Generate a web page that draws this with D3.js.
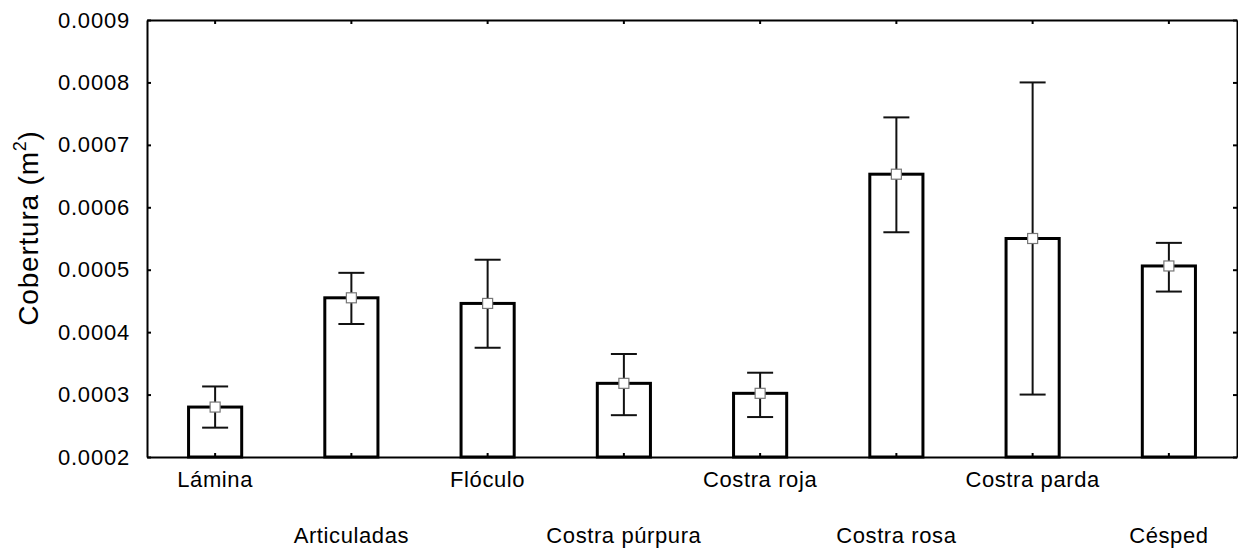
<!DOCTYPE html>
<html>
<head>
<meta charset="utf-8">
<script src="https://cdn.jsdelivr.net/npm/d3@7"></script>
<style>
  body { margin: 0; background: #fff; }
  svg text { font-family: "Liberation Sans", Arial, sans-serif; fill: #000; }
</style>
</head>
<body>
<svg id="canvas"></svg>
<script>
let categories = ['Lámina', 'Articuladas', 'Flóculo', 'Costra púrpura', 'Costra roja', 'Costra rosa', 'Costra parda', 'Césped']
let means = [0.000280, 0.000455, 0.000446, 0.000318, 0.000302, 0.000653, 0.000550, 0.000506]
let upper = [0.000313, 0.000495, 0.000516, 0.000365, 0.000335, 0.000744, 0.000800, 0.000543]
let lower = [0.000247, 0.000413, 0.000375, 0.000267, 0.000264, 0.000560, 0.000300, 0.000465]
let yTicks = [0.0002, 0.0003, 0.0004, 0.0005, 0.0006, 0.0007, 0.0008, 0.0009]

let w = 1238
let h = 548
let plotLeft = 147
let plotRight = 1237
let plotTop = 20
let plotBottom = 457

let canvas = d3.select('#canvas')
canvas.attr('width', w).attr('height', h)

let xScale = d3.scaleBand()
    .domain(categories)
    .range([plotLeft, plotRight])
let yScale = d3.scaleLinear()
    .domain([0.0002, 0.0009])
    .range([plotBottom, plotTop])

let barW = xScale.bandwidth() * 0.39
let capW = 26
let cx = (d) => xScale(d) + xScale.bandwidth() / 2

// bars
canvas.selectAll('rect.bar')
    .data(categories)
    .enter()
    .append('rect')
    .attr('class', 'bar')
    .attr('x', (d) => cx(d) - barW / 2)
    .attr('width', barW)
    .attr('y', (d, i) => yScale(means[i]))
    .attr('height', (d, i) => yScale(0.0002) - yScale(means[i]))
    .attr('fill', '#fff')
    .attr('stroke', '#000')
    .attr('stroke-width', 3)

// error bars
let err = canvas.append('g')
    .attr('stroke', '#111')
    .attr('stroke-width', 2)
categories.forEach((d, i) => {
    err.append('line')
        .attr('x1', cx(d)).attr('x2', cx(d))
        .attr('y1', yScale(upper[i])).attr('y2', yScale(lower[i]))
    err.append('line')
        .attr('x1', cx(d) - capW / 2).attr('x2', cx(d) + capW / 2)
        .attr('y1', yScale(upper[i])).attr('y2', yScale(upper[i]))
    err.append('line')
        .attr('x1', cx(d) - capW / 2).attr('x2', cx(d) + capW / 2)
        .attr('y1', yScale(lower[i])).attr('y2', yScale(lower[i]))
})

// mean markers
canvas.selectAll('rect.mean')
    .data(categories)
    .enter()
    .append('rect')
    .attr('class', 'mean')
    .attr('x', (d) => cx(d) - 5)
    .attr('y', (d, i) => yScale(means[i]) - 5)
    .attr('width', 10)
    .attr('height', 10)
    .attr('fill', '#fff')
    .attr('stroke', '#777')
    .attr('stroke-width', 1.2)

// axes
let yAxis = d3.axisLeft(yScale)
    .tickValues(yTicks)
    .tickFormat(d3.format('.4f'))
    .tickSizeInner(-4)
    .tickSizeOuter(0)
    .tickPadding(17)
canvas.append('g')
    .attr('transform', 'translate(' + plotLeft + ', 0)')
    .call(yAxis)
    .call((g) => g.selectAll('text').style('font-size', '22px').attr('letter-spacing', '0.8px'))

let yAxisR = d3.axisRight(yScale)
    .tickValues(yTicks)
    .tickFormat('')
    .tickSizeInner(-4)
    .tickSizeOuter(0)
canvas.append('g')
    .attr('transform', 'translate(' + plotRight + ', 0)')
    .call(yAxisR)

let xAxisTop = d3.axisTop(xScale)
    .tickFormat('')
    .tickSizeInner(-4)
    .tickSizeOuter(0)
canvas.append('g')
    .attr('transform', 'translate(0, ' + plotTop + ')')
    .call(xAxisTop)

let xAxis = d3.axisBottom(xScale)
    .tickSizeInner(-4)
    .tickSizeOuter(0)
    .tickPadding(16)
canvas.append('g')
    .attr('transform', 'translate(0, ' + plotBottom + ')')
    .call(xAxis)
    .call((g) => g.selectAll('text')
        .style('font-size', '22px')
        .attr('letter-spacing', '0.6px')
        .attr('y', (d, i) => i % 2 === 0 ? 14 : 70))

canvas.selectAll('.domain').attr('stroke', '#000').attr('stroke-width', 2)
canvas.selectAll('.tick line').attr('stroke', '#000').attr('stroke-width', 2)

// axis title
let title = canvas.append('text')
    .attr('transform', 'translate(38, 228) rotate(-90)')
    .attr('text-anchor', 'middle')
    .style('font-size', '28px')
    .attr('letter-spacing', '0.8px')
title.append('tspan').text('Cobertura (m')
title.append('tspan').text('2').attr('dy', -12).style('font-size', '18px')
title.append('tspan').text(')').attr('dy', 12)
</script>
</body>
</html>
